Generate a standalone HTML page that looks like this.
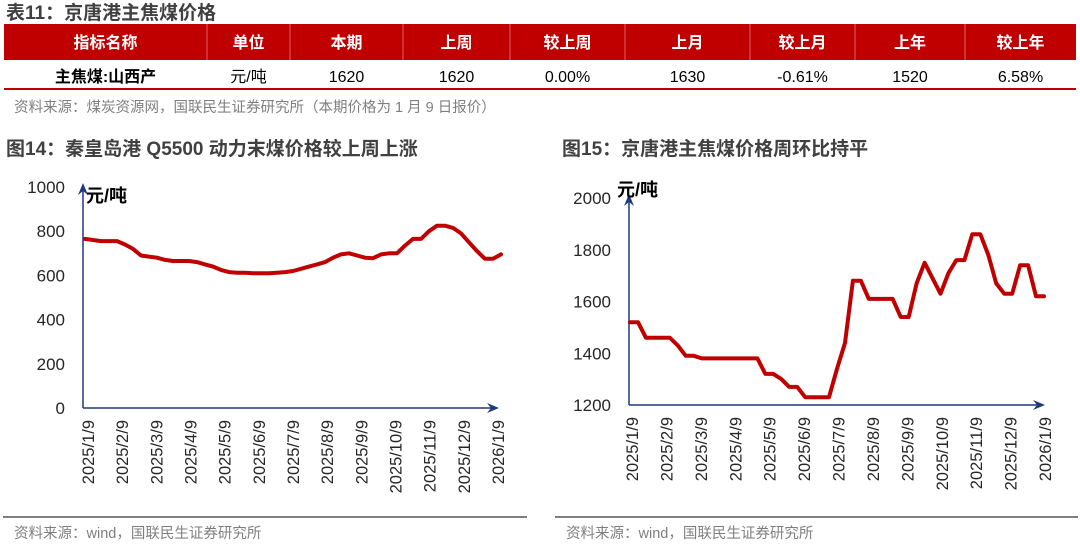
<!DOCTYPE html>
<html><head><meta charset="utf-8"><style>
body{margin:0;background:#fff;width:1080px;height:544px;overflow:hidden;font-family:"Liberation Sans","Noto Sans CJK SC",sans-serif;}
svg text{font-family:"Liberation Sans","Noto Sans CJK SC",sans-serif;}
</style></head><body>
<svg id="pg" width="1080" height="544" viewBox="0 0 1080 544" xmlns="http://www.w3.org/2000/svg">
<text x="6" y="19" font-size="19" font-weight="bold" fill="#404040">表11：京唐港主焦煤价格</text>
<g id="tbl"></g>
<text x="14" y="112" font-size="14.5" fill="#7f7f7f">资料来源：煤炭资源网，国联民生证券研究所（本期价格为 1 月 9 日报价）</text>
<text x="6" y="155" font-size="19" font-weight="bold" fill="#404040">图14：秦皇岛港 Q5500 动力末煤价格较上周上涨</text>
<text x="562" y="155" font-size="19" font-weight="bold" fill="#404040">图15：京唐港主焦煤价格周环比持平</text>
<g id="c1"></g>
<g id="c2"></g>
<line x1="3" y1="517" x2="527" y2="517" stroke="#7f7f7f" stroke-width="2"/>
<line x1="555" y1="517" x2="1078" y2="517" stroke="#7f7f7f" stroke-width="2"/>
<text x="14" y="538" font-size="14.5" fill="#7f7f7f">资料来源：wind，国联民生证券研究所</text>
<text x="566" y="538" font-size="14.5" fill="#7f7f7f">资料来源：wind，国联民生证券研究所</text>
</svg>
<script>
const NS="http://www.w3.org/2000/svg";
const tickLabels=["2025/1/9","2025/2/9","2025/3/9","2025/4/9","2025/5/9","2025/6/9","2025/7/9","2025/8/9","2025/9/9","2025/10/9","2025/11/9","2025/12/9","2026/1/9"];
const coalValues=[765,760,755,755,755,740,720,690,685,680,670,665,665,665,660,650,640,625,615,612,612,610,610,610,612,615,620,630,640,650,660,680,695,700,690,680,678,695,700,700,735,765,765,800,825,825,815,790,750,710,675,675,695];
const cokeValues=[1520,1520,1460,1460,1460,1460,1430,1390,1390,1380,1380,1380,1380,1380,1380,1380,1380,1320,1320,1300,1270,1270,1230,1230,1230,1230,1340,1440,1680,1680,1610,1610,1610,1610,1540,1540,1670,1750,1690,1630,1710,1760,1760,1860,1860,1780,1670,1630,1630,1740,1740,1620,1620];
const yTicks1=[0,200,400,600,800,1000];
const yTicks2=[1200,1400,1600,1800,2000];
const tableHead=["指标名称","单位","本期","上周","较上周","上月","较上月","上年","较上年"];
const tableRow=["主焦煤:山西产","元/吨","1620","1620","0.00%","1630","-0.61%","1520","6.58%"];
function mk(tag,at,parent,txt){const e=document.createElementNS(NS,tag);for(const k in at)e.setAttribute(k,at[k]);if(txt!==undefined)e.textContent=txt;parent.appendChild(e);return e;}
const tbl=document.getElementById('tbl');
const colB=[4,207,290,403,510,625,750,855,965,1076];
let r=mk('rect',{x:4,y:24,width:1072,height:36,fill:'#c00000'},tbl);


for(let i=1;i<colB.length-1;i++){let l=mk('line',{x1:colB[i],y1:24,x2:colB[i],y2:60,stroke:'#e06060','stroke-width':1},tbl);

}
tableHead.forEach((h,i)=>{const cx=(colB[i]+colB[i+1])/2;
let t=mk('text',{x:cx,y:48,'text-anchor':'middle','font-size':16,'font-weight':'bold',fill:'#fff'},tbl,h);


let v=mk('text',{x:cx,y:82,'text-anchor':'middle','font-size':16,'font-weight':i==0?'bold':'normal',fill:'#000'},tbl,tableRow[i]);

});
let bl=mk('line',{x1:4,y1:89,x2:1076,y2:89,stroke:'#c00000','stroke-width':2},tbl);


function chart(gid,vals,ticks,cfg){
 const g=document.getElementById(gid);
 const ys=v=>cfg.y0-(v-ticks[0])/(ticks[ticks.length-1]-ticks[0])*(cfg.y0-cfg.y1);
 const xs=i=>cfg.x0+i*(cfg.x1-cfg.x0)/(vals.length-1);
 ticks.forEach(t=>{let e=mk('text',{x:cfg.ax-18,y:ys(t)+6,'text-anchor':'end','font-size':17,fill:'#262626'},g,t);
 
 });
 let ax=mk('path',{d:`M${cfg.ax},${cfg.y0} L${cfg.ax},${cfg.y1-2} M${cfg.ax},${cfg.y0} L${cfg.xe},${cfg.y0}`,stroke:'#1f3a7a','stroke-width':1.5,fill:'none'},g);
 
 
 let a1=mk('path',{d:`M${cfg.ax-5},${cfg.y1+8} L${cfg.ax},${cfg.y1-4} L${cfg.ax+5},${cfg.y1+8} L${cfg.ax},${cfg.y1+4}Z`,fill:'#1f3a7a'},g);
 
 
 let a2=mk('path',{d:`M${cfg.xe-10},${cfg.y0-5} L${cfg.xe+2},${cfg.y0} L${cfg.xe-10},${cfg.y0+5} L${cfg.xe-6},${cfg.y0}Z`,fill:'#1f3a7a'},g);
 
 
 let u=mk('text',{x:cfg.ux,y:cfg.uy,'font-size':18,'font-weight':'bold',fill:'#000'},g,'元/吨');
 
 
 let d=vals.map((v,i)=>(i?'L':'M')+xs(i).toFixed(1)+','+ys(v).toFixed(1)).join(' ');
 let p=mk('path',{d:d,stroke:'#c00000','stroke-width':4,fill:'none','stroke-linejoin':'round','stroke-linecap':'round'},g);
 
 
 tickLabels.forEach((t,i)=>{const x=cfg.l0+i*(cfg.l1-cfg.l0)/(tickLabels.length-1);
 let e=mk('text',{transform:`translate(${x+6},${cfg.y0+12}) rotate(-90)`,'text-anchor':'end','font-size':16.5,fill:'#262626'},g,t);
 
 });
}
chart('c1',coalValues,yTicks1,{ax:83,x0:85,x1:501,xe:497,y0:408,y1:187,l0:88,l1:498,ux:86,uy:202});
chart('c2',cokeValues,yTicks2,{ax:629,x0:630,x1:1044,xe:1043,y0:405,y1:198,l0:632,l1:1045,ux:617,uy:196});
</script>
</body></html>
